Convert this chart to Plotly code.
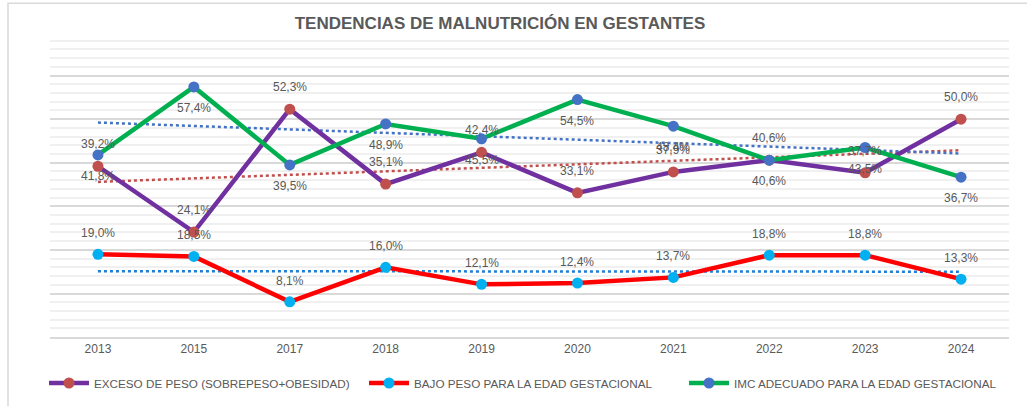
import numpy as np
import plotly.graph_objects as go

years = ["2013", "2015", "2017", "2018", "2019", "2020", "2021", "2022", "2023", "2024"]
exceso = [39.2, 24.1, 52.3, 35.1, 42.4, 33.1, 37.9, 40.6, 37.7, 50.0]
bajo = [19.0, 18.5, 8.1, 16.0, 12.1, 12.4, 13.7, 18.8, 18.8, 13.3]
imc = [41.8, 57.4, 39.5, 48.9, 45.5, 54.5, 48.4, 40.6, 43.5, 36.7]

names = ["EXCESO DE PESO (SOBREPESO+OBESIDAD)",
         "BAJO PESO PARA LA EDAD GESTACIONAL",
         "IMC ADECUADO PARA LA EDAD GESTACIONAL"]

FONT = "Liberation Sans, Arial, sans-serif"
LABEL_COLOR = "#595959"

W, H = 1027, 406
L, R, T, B = 50, 18, 32, 67
PW, PH = W - L - R, H - T - B


def trend(vals):
    x = np.arange(1, len(vals) + 1)
    m, b = np.polyfit(x, np.array(vals), 1)
    return list(m * x + b)


def fmt(v):
    return f"{v:.1f}".replace(".", ",") + "%"


fig = go.Figure()

# trendlines (linear, as in the spreadsheet)
for vals, col in [(exceso, "#C0504D"), (bajo, "#1F7FD6"), (imc, "#4472C4")]:
    fig.add_trace(go.Scatter(x=years, y=trend(vals), mode="lines",
                             line=dict(color=col, width=2.5, dash="dot"),
                             showlegend=False, hoverinfo="skip"))

series = [
    (exceso, names[0], "#7030A0", "#C0504D"),
    (bajo, names[1], "#FF0000", "#00B0F0"),
    (imc, names[2], "#00B050", "#4472C4"),
]
for vals, nm, lc, mc in series:
    fig.add_trace(go.Scatter(x=years, y=vals, name=nm, mode="lines+markers",
                             line=dict(color=lc, width=4.5),
                             marker=dict(color=mc, size=11)))

annotations = []
for vals, shift in [(exceso, 22), (bajo, 21), (imc, -21)]:
    for i, v in enumerate(vals):
        annotations.append(dict(x=i, y=v, xref="x", yref="y", text=fmt(v),
                                showarrow=False, yshift=shift,
                                font=dict(size=12, color=LABEL_COLOR, family=FONT)))

fig.update_layout(
    width=W, height=H,
    margin=dict(l=L, r=R, t=T, b=B),
    paper_bgcolor="white", plot_bgcolor="white",
    font=dict(family=FONT, color=LABEL_COLOR),
    title=dict(text="<b>TENDENCIAS DE MALNUTRICIÓN EN GESTANTES</b>",
               x=(500 - L) / PW, xanchor="center", xref="paper",
               y=1 - 23 / H, yanchor="middle",
               font=dict(size=17, color="#595959", family=FONT)),
    xaxis=dict(type="category", range=[-0.5, 9.5], showgrid=False,
               showline=True, linecolor="#D9D9D9", linewidth=2,
               ticks="", tickfont=dict(size=12, color=LABEL_COLOR), zeroline=False),
    yaxis=dict(range=[0, 70], dtick=10, showticklabels=False,
               gridcolor="#D9D9D9", gridwidth=2, zeroline=False,
               minor=dict(dtick=2, showgrid=True, gridcolor="#F0F0F0", gridwidth=2)),
    legend=dict(orientation="h", xref="container", x=44 / W, xanchor="left",
                yref="container", y=1 - 383 / H, yanchor="middle",
                font=dict(size=11.7, color=LABEL_COLOR, family=FONT),
                itemwidth=40, entrywidth=265, entrywidthmode="pixels"),
    annotations=annotations,
    shapes=[dict(type="rect", xref="paper", yref="paper",
                 x0=(8 - L) / PW, x1=1.05, y0=-0.3, y1=1 + (T - 3) / PH,
                 line=dict(color="#D9D9D9", width=1.5), layer="below")],
    showlegend=True,
)

fig.write_html("out.html", config={"displayModeBar": False},
               post_script="document.body.style.margin='0';document.body.style.padding='0';")
